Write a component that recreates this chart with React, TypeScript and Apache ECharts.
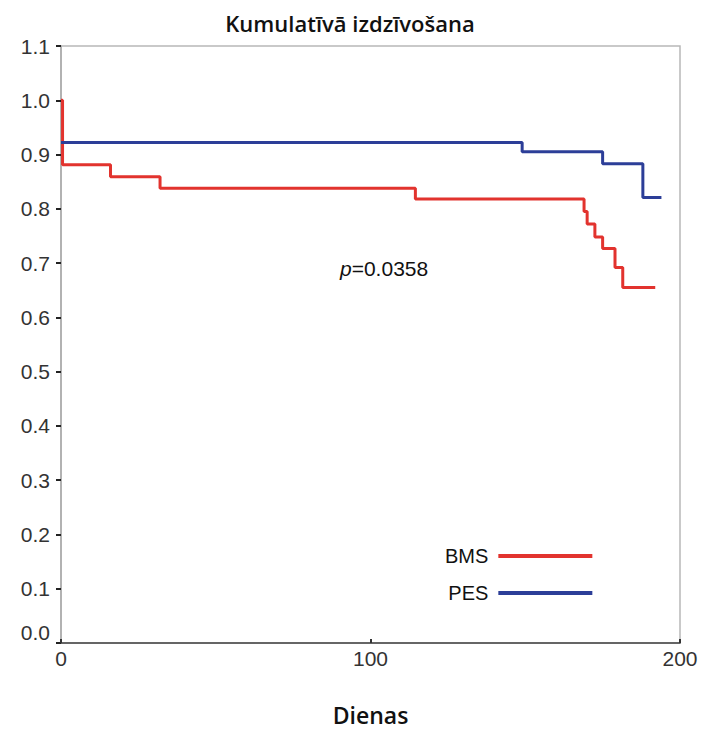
import React, { useEffect, useRef } from "react";
import * as echarts from "echarts";

const titleText = "Kumulatīvā izdzīvošana";
const xAxisName = "Dienas";
const pValueText = "=0.0358";

// Kaplan-Meier steps: [day, survival]
const bmsDays = [0, 0.5, 16, 32, 114.5, 169, 170, 172.5, 175, 179, 181.5, 192];
const bmsSurv = [1.0, 0.881, 0.859, 0.838, 0.818, 0.795, 0.772, 0.748, 0.727, 0.692, 0.655, 0.655];
const pesDays = [0, 149, 175, 188, 194];
const pesSurv = [0.922, 0.905, 0.883, 0.821, 0.821];

const yTicks = [0, 0.1, 0.2, 0.3, 0.4, 0.5, 0.6, 0.7, 0.8, 0.9, 1.0, 1.1];
const xTicks = [0, 100, 200];

const RED = "#e2332e";
const BLUE = "#2c3e98";

export default function App() {
  const ref = useRef<HTMLDivElement>(null);
  useEffect(() => {
    if (!ref.current) return;
    const chart = echarts.init(ref.current, undefined, { renderer: "svg" });
    const bms = bmsDays.map((d, i) => [d, bmsSurv[i]]);
    const pes = pesDays.map((d, i) => [d, pesSurv[i]]);
    chart.setOption({
      animation: false,
      backgroundColor: "#ffffff",
      title: {
        text: titleText,
        left: 345,
        top: 7,
        textAlign: "center",
        textStyle: { fontFamily: "Open Sans", fontSize: 22, fontWeight: 600, color: "#111" },
      },
      grid: {
        left: 61,
        right: 24,
        top: 46,
        bottom: 92,
        show: true,
        borderColor: "#b8b8b8",
        borderWidth: 1.5,
      },
      legend: {
        orient: "vertical",
        left: 440,
        top: 541,
        align: "right",
        itemWidth: 94,
        itemHeight: 4,
        itemGap: 17,
        icon: "rect",
        textStyle: { fontFamily: "Liberation Sans", fontSize: 20, color: "#111", padding: [0, 5, 0, 0] },
        data: ["BMS", "PES"],
      },
      xAxis: {
        type: "value",
        min: 0,
        max: 200,
        interval: 100,
        name: xAxisName,
        nameLocation: "middle",
        nameGap: 60,
        nameTextStyle: { fontFamily: "Open Sans", fontSize: 23, fontWeight: 600, color: "#111" },
        axisLine: { show: true, lineStyle: { color: "#444", width: 1.5 } },
        axisTick: { show: true, inside: true, length: 4, lineStyle: { color: "#333", width: 2 } },
        axisLabel: {
          fontFamily: "Liberation Sans",
          fontSize: 21,
          color: "#333",
          margin: 5,
          formatter: (v: number) => (xTicks.includes(v) ? String(v) : ""),
        },
        splitLine: { show: false },
      },
      yAxis: {
        type: "value",
        min: 0,
        max: 1.1,
        interval: 0.1,
        axisLine: { show: true, lineStyle: { color: "#aaaaaa", width: 1.5 } },
        axisTick: { show: true, length: 5, lineStyle: { color: "#222", width: 2 } },
        axisLabel: {
          fontFamily: "Liberation Sans",
          fontSize: 21,
          color: "#333",
          margin: 11,
          formatter: (v: number) => {
            const t = yTicks.find((y) => Math.abs(y - v) < 1e-6);
            if (t === undefined) return "";
            return t === 0 ? "{z|0.0}" : t.toFixed(1);
          },
          rich: { z: { fontFamily: "Liberation Sans", fontSize: 21, color: "#333", padding: [0, 0, 22, 0] } },
        },
        splitLine: { show: false },
      },
      series: [
        {
          name: "BMS",
          type: "line",
          step: "end",
          data: bms,
          showSymbol: false,
          symbol: "none",
          lineStyle: { color: RED, width: 3 },
          itemStyle: { color: RED },
        },
        {
          name: "PES",
          type: "line",
          step: "end",
          data: pes,
          showSymbol: false,
          symbol: "none",
          lineStyle: { color: BLUE, width: 3 },
          itemStyle: { color: BLUE },
        },
      ],
      graphic: [
        {
          type: "text",
          left: 340,
          top: 258,
          style: {
            text: "{i|p}" + pValueText,
            rich: {
              i: { fontFamily: "Liberation Sans", fontSize: 21, fontStyle: "italic", fill: "#111" },
            },
            fontFamily: "Liberation Sans",
            fontSize: 21,
            fill: "#111",
          },
        },
      ],
    });
    return () => chart.dispose();
  }, []);
  return (
    <div
      ref={ref}
      style={{ position: "absolute", left: 0, top: 0, width: 704, height: 735 }}
    />
  );
}
